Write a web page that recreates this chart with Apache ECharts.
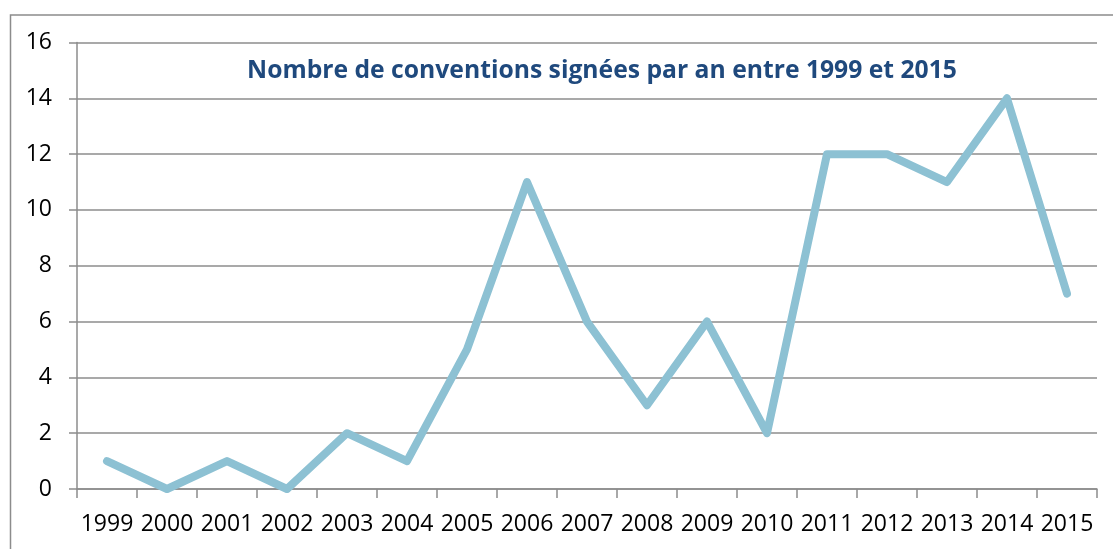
<!DOCTYPE html>
<html>
<head>
<meta charset="utf-8">
<script src="https://cdn.jsdelivr.net/npm/echarts@6/dist/echarts.min.js"></script>
<style>
html,body{margin:0;padding:0;background:#fff;}
#chart{width:1113px;height:549px;}
</style>
</head>
<body>
<div id="chart"></div>
<script>
var years = ['1999','2000','2001','2002','2003','2004','2005','2006','2007','2008','2009','2010','2011','2012','2013','2014','2015'];
var conventions = [1,0,1,0,2,1,5,11,6,3,6,2,12,12,11,14,7];
var titleText = 'Nombre de conventions signées par an entre 1999 et 2015';

var chart = echarts.init(document.getElementById('chart'), null, {renderer:'canvas'});
chart.setOption({
  animation:false,
  backgroundColor:'#ffffff',
  graphic:[{
    type:'rect', left:8, top:12.5, z:-1,
    shape:{width:1200, height:600},
    style:{fill:'none', stroke:'#8c8c8c', lineWidth:1.5}
  }],
  title:{
    text:titleText,
    left:597, top:53, textAlign:'center',
    textStyle:{fontFamily:'Open Sans', fontWeight:'bold', fontSize:24.7, color:'#1F497D'}
  },
  grid:{left:77, right:16, top:42.5, bottom:60, containLabel:false},
  xAxis:{
    type:'category', data:years, boundaryGap:true,
    axisLine:{show:true, lineStyle:{color:'#8c8c8c', width:1.5}},
    axisTick:{show:true, alignWithLabel:false, length:9, lineStyle:{color:'#8c8c8c', width:1.5}},
    axisLabel:{margin:24, fontFamily:'Open Sans', fontSize:23, color:'#000', interval:0},
    splitLine:{show:false}
  },
  yAxis:{
    type:'value', min:0, max:16, interval:2,
    axisLine:{show:true, lineStyle:{color:'#8c8c8c', width:1.5}},
    axisTick:{show:true, length:8, lineStyle:{color:'#8c8c8c', width:1.5}},
    axisLabel:{margin:25, fontFamily:'Open Sans', fontSize:23, color:'#000'},
    splitLine:{show:true, lineStyle:{color:'#8c8c8c', width:1.5}}
  },
  series:[{
    type:'line', data:conventions, symbol:'none',
    lineStyle:{color:'#8DC1D3', width:8, cap:'round', join:'round'}
  }]
});
</script>
</body>
</html>
